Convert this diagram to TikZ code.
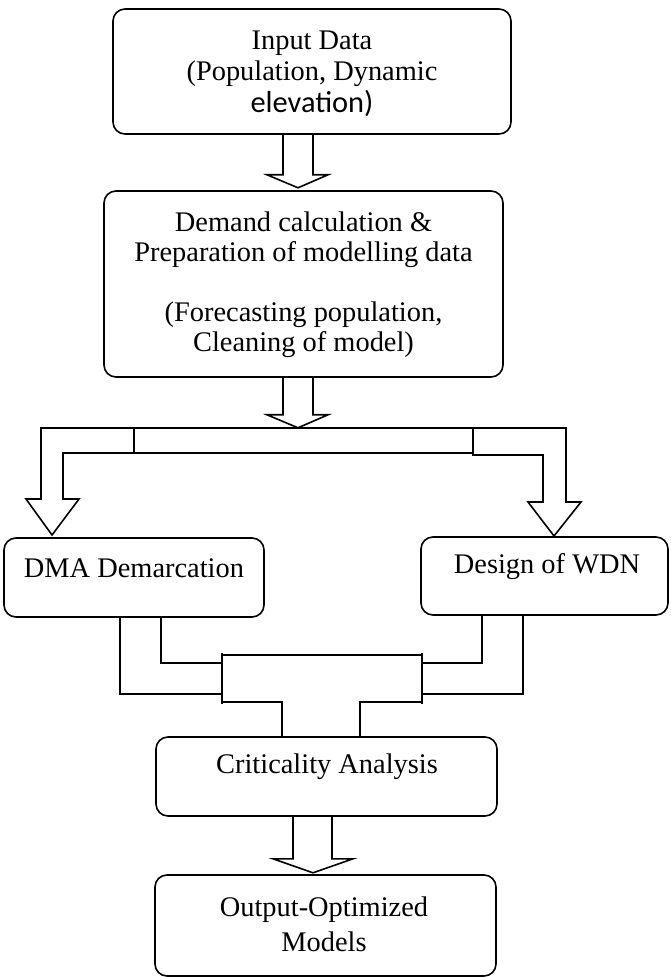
\documentclass[tikz,border=0pt]{standalone}
\usepackage{fontspec}
\setmainfont{Liberation Serif}
\newfontfamily\calfont{Carlito}
\usetikzlibrary{calc}
\begin{document}
\begin{tikzpicture}[x=0.5pt,y=-0.5pt,
  box/.style={draw, line width=0.8pt, rounded corners=6pt, inner sep=0pt},
  txt/.style={align=center, font=\fontsize{14.2}{15.7}\selectfont, inner sep=0pt},
  flow/.style={draw, line width=0.8pt, line join=miter},
]
\useasboundingbox (0,0) rectangle (670,977);
\fill[white] (0,0) rectangle (670,977);
% boxes
\node[box, minimum width=199pt, minimum height=62.5pt] (b1) at (312,71.5) {};
\node[box, minimum width=199.5pt, minimum height=93pt] (b2) at (303.5,284) {};
\node[box, minimum width=130pt, minimum height=39.5pt] (dma) at (134,577.5) {};
\node[box, minimum width=123.5pt, minimum height=39pt] (wdn) at (544.5,576) {};
\node[box, minimum width=170.5pt, minimum height=39.5pt] (crit) at (326.5,776.5) {};
\node[box, minimum width=170.5pt, minimum height=50.5pt] (out) at (325.5,925.5) {};
% texts
\node[txt] (t1) at (312,73.5) {Input Data\\(Population, Dynamic\\{\calfont\fontsize{15.2}{15.7}\selectfont elevation)}};
\node[txt, font=\fontsize{14.2}{15}\selectfont] (t2) at (303.5,285) {Demand calculation \&\\Preparation of modelling data\\[15pt](Forecasting population,\\Cleaning of model)};
\node[txt] (t3) at (134,568) {DMA Demarcation};
\node[txt] (t4) at (547,567) {Design of WDN};
\node[txt] (t5) at (327,767) {Criticality Analysis};
\node[txt, font=\fontsize{14.2}{17.5}\selectfont] (t6) at (324,924.5) {Output-Optimized\\Models};
% block arrow 1
\draw[flow] ($(b1.south)+(-29,0)$) -- ++(0,40) -- ++(-16,0) -- ++(31,13) -- ++(30,-13) -- ++(-15,0) -- ++(0,-40);
% block arrow 2
\draw[flow] ($(b2.south)+(-20.5,0)$) -- ++(0,37) -- ++(-16,0) -- ++(31,13) -- ++(30,-13) -- ++(-15,0) -- ++(0,-37);
% distribution bar
\draw[flow] (41,499) -- (41,428) -- (566,428) -- (566,502) -- (581,502) -- (554,536) -- (528,502) -- (543,502) -- (543,455) -- (473,455) -- (473,453) -- (134,453) -- (63,453) -- (63,499) -- (79,499) -- (52,535) -- (26,499) -- cycle;
\draw[flow] (134,428) -- (134,453) (473,428) -- (473,455);
% merge connector
\draw[flow] (dma.south -| 120,0) -- (120,694) -- (222,694);
\draw[flow] (dma.south -| 161,0) -- (161,663) -- (222,663);
\draw[flow] (wdn.south -| 482,0) -- (482,663) -- (422,663);
\draw[flow] (wdn.south -| 523,0) -- (523,694) -- (422,694);
\draw[flow] (222,653) -- (222,704);
\draw[flow] (222,655) -- (422,655);
\draw[flow, line width=1.4pt] (422,653) -- (422,704);
\draw[flow] (222,702) -- (282,702) -- (crit.north -| 282,0);
\draw[flow] (422,702) -- (360,702) -- (crit.north -| 360,0);
% block arrow 3
\draw[flow] ($(crit.south)+(-33.5,0)$) -- ++(0,42) -- ++(-20,0) -- ++(40,14) -- ++(40,-14) -- ++(-21,0) -- ++(0,-42);
\end{tikzpicture}
\end{document}
